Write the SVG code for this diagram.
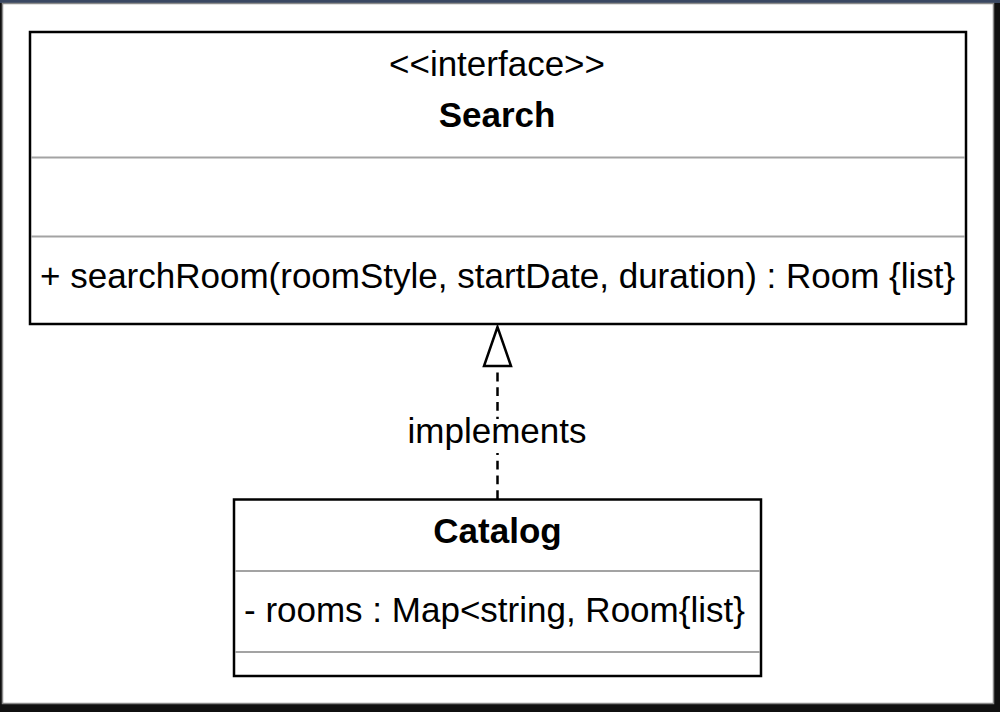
<svg xmlns="http://www.w3.org/2000/svg" width="1000" height="712" viewBox="0 0 1000 712">
  <style>
    .box { fill: #ffffff; stroke: #000000; stroke-width: 2.5; }
    .sep { stroke: #a3a3a3; stroke-width: 2.2; fill: none; }
    .t { font-family: "Liberation Sans", Arial, Helvetica, sans-serif; font-size: 35px; fill: #000000; }
    .b { font-weight: bold; }
    .edge { stroke: #000000; stroke-width: 2.5; fill: none; stroke-dasharray: 8.8 5.9; }
  </style>
  <rect x="0" y="0" width="1000" height="712" fill="#101010"/>
  <rect x="0" y="0" width="1000" height="3" fill="#3a4862"/>
  <rect x="2.5" y="3.5" width="991" height="700" fill="#ffffff" stroke="#8a8a8a" stroke-width="1.5"/>

  <g id="node-search">
    <rect class="box" x="30" y="32" width="936" height="292"/>
    <line class="sep" x1="31" y1="157.5" x2="965" y2="157.5"/>
    <line class="sep" x1="31" y1="236.5" x2="965" y2="236.5"/>
    <text class="t" x="497" y="76" text-anchor="middle">&lt;&lt;interface&gt;&gt;</text>
    <text class="t b" x="497" y="127" text-anchor="middle">Search</text>
    <text class="t" x="40" y="288">+ searchRoom(roomStyle, startDate, duration) : Room {list}</text>
  </g>

  <g id="node-catalog">
    <rect class="box" x="234" y="499.5" width="527" height="176.5"/>
    <line class="sep" x1="235" y1="571" x2="760" y2="571"/>
    <line class="sep" x1="235" y1="652" x2="760" y2="652"/>
    <text class="t b" x="497.5" y="543" text-anchor="middle">Catalog</text>
    <text class="t" x="244" y="622">- rooms : Map&lt;string, Room{list}</text>
  </g>

  <g id="connectors">
    <path class="edge" d="M497.5 499 V366"/>
    <polygon points="497.5,327 484,366 511,366" fill="#ffffff" stroke="#000000" stroke-width="2.5" stroke-linejoin="miter"/>
    <rect x="405" y="419" width="185" height="34" fill="#ffffff"/>
    <text class="t" x="497" y="443" text-anchor="middle">implements</text>
  </g>
</svg>
